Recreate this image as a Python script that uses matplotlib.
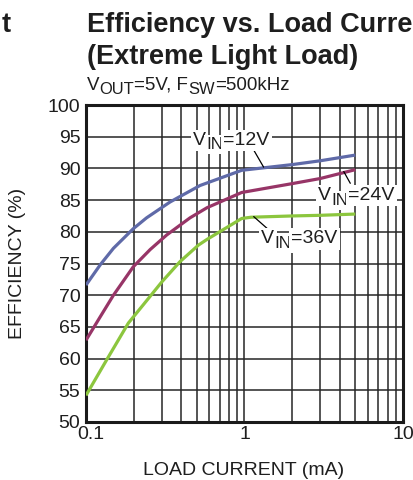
import numpy as np
import matplotlib
matplotlib.use("Agg")
import matplotlib.pyplot as plt
from matplotlib.ticker import FixedLocator, LogLocator, NullFormatter
from matplotlib.transforms import offset_copy, ScaledTranslation

plt.rcParams['font.family'] = ['Liberation Sans', 'DejaVu Sans']

# load current (mA) / efficiency (%)
load_12v = [0.1, 0.123, 0.149, 0.199, 0.241, 0.339, 0.524, 0.96, 2, 3, 5]
eff_12v = [71.6, 74.8, 77.4, 80.5, 82.2, 84.7, 87.3, 89.7, 90.6, 91.2, 92.1]
load_24v = [0.1, 0.123, 0.149, 0.199, 0.254, 0.323, 0.453, 0.58, 0.96, 2, 3, 5]
eff_24v = [62.9, 66.6, 70.0, 74.5, 77.2, 79.5, 82.2, 83.8, 86.2, 87.6, 88.4, 89.8]
load_36v = [0.1, 0.135, 0.185, 0.23, 0.301, 0.392, 0.512, 0.58, 0.96, 1.1, 2, 3, 5]
eff_36v = [54.2, 59.8, 65.6, 68.5, 72.1, 75.3, 77.9, 78.8, 82.1, 82.3, 82.5, 82.6, 82.8]

y_ticks = [50, 55, 60, 65, 70, 75, 80, 85, 90, 95, 100]
x_ticks = [0.1, 1, 10]
x_tick_labels = ["0.1", "1", "10"]

c12 = "#5f6aa8"
c24 = "#973567"
c36 = "#8cc63e"
grid_c = "#262626"
txt_c = "#1e1e1e"

fig = plt.figure(figsize=(4.14, 4.8), dpi=100)
ax = fig.add_axes([86/414, 1-422/480, 317/414, 317/480])
renderer = fig.canvas.get_renderer()


def rich_text(host, x, y, parts, size, transform, box=None, zorder=5):
    # parts: list of (string, is_subscript); drawn left to right from x, y (baseline)
    widths = []
    for s, sub in parts:
        t = fig.text(0, 0, s, fontsize=size * (0.88 if sub else 1.0))
        widths.append(t.get_window_extent(renderer).width)
        t.remove()
    off = 0
    for (s, sub), w in zip(parts, widths):
        tr = offset_copy(transform, fig=fig, x=off, y=-4.5 if sub else 0, units='dots')
        host.text(x, y, s, transform=tr, fontsize=size * (0.88 if sub else 1.0),
                  ha='left', va='baseline', color=txt_c, bbox=box, zorder=zorder)
        off += w


ax.plot(load_12v, eff_12v, color=c12, lw=2.3, solid_capstyle='butt', zorder=3)
ax.plot(load_24v, eff_24v, color=c24, lw=2.3, solid_capstyle='butt', zorder=3)
ax.plot(load_36v, eff_36v, color=c36, lw=2.3, solid_capstyle='butt', zorder=3)

ax.set_xscale('log')
ax.set_xlim(0.1, 10)
ax.set_ylim(50, 100)
ax.xaxis.set_major_locator(FixedLocator(x_ticks))
ax.set_xticklabels(x_tick_labels)
ax.xaxis.set_minor_locator(LogLocator(base=10, subs=np.arange(2, 10)))
ax.xaxis.set_minor_formatter(NullFormatter())
ax.set_yticks(y_ticks)
ax.grid(True, which='both', axis='x', color=grid_c, lw=1.1)
ax.grid(True, which='major', axis='y', color=grid_c, lw=1.1)
ax.set_axisbelow(True)
ax.tick_params(which='both', length=0, labelsize=14, colors=txt_c)
ax.tick_params(axis='y', pad=4)
ax.tick_params(axis='x', pad=3)
# nudge the first x label right, it sits clear of "50" in the original
lab0 = ax.get_xticklabels()[0]
lab0.set_transform(lab0.get_transform() + ScaledTranslation(5/100, 0, fig.dpi_scale_trans))
for s in ax.spines.values():
    s.set_linewidth(2.2)
    s.set_color('#1a1a1a')

# curve labels with leader lines
box = dict(boxstyle='square,pad=0.12', fc='white', ec='none')
lead = dict(arrowstyle='-', color='black', lw=0.9, shrinkA=0, shrinkB=0)
rich_text(ax, 0.473, 93.7, [("V", False), ("IN", True), ("=12V", False)], 14, ax.transData, box)
rich_text(ax, 2.91, 85.0, [("V", False), ("IN", True), ("=24V", False)], 14, ax.transData, box)
rich_text(ax, 1.276, 78.2, [("V", False), ("IN", True), ("=36V", False)], 14, ax.transData, box)
ax.annotate("", xy=(1.32, 90.2), xytext=(1.143, 92.9), arrowprops=lead, zorder=4)
ax.annotate("", xy=(4.23, 89.5), xytext=(4.65, 87.65), arrowprops=lead, zorder=4)
ax.annotate("", xy=(1.143, 82.4), xytext=(1.387, 80.55), arrowprops=lead, zorder=4)

fig.text(2/414, 1-32/480, "t", fontsize=19.5, fontweight='bold', va='baseline', color=txt_c)
fig.text(87/414, 1-32/480, "Efficiency vs. Load Current", fontsize=19.5,
         fontweight='bold', va='baseline', color=txt_c)
fig.text(87/414, 1-64/480, "(Extreme Light Load)", fontsize=19.5,
         fontweight='bold', va='baseline', color=txt_c)
rich_text(fig, 87/414, 1-90/480,
          [("V", False), ("OUT", True), ("=5V, F", False), ("SW", True), ("=500kHz", False)],
          13.5, fig.transFigure)
fig.text(18/414, 1-263/480, "EFFICIENCY (%)", rotation=90, fontsize=14,
         ha='center', va='center', color=txt_c)
fig.text(244/414, 1-475/480, "LOAD CURRENT (mA)", fontsize=14,
         ha='center', va='baseline', color=txt_c)

fig.savefig("out.png", dpi=100)
